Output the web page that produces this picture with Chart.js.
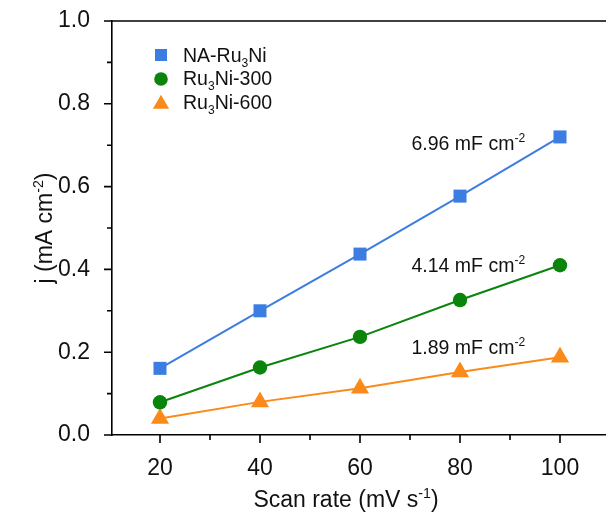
<!DOCTYPE html>
<html>
<head>
<meta charset="utf-8">
<script src="https://cdn.jsdelivr.net/npm/chart.js@4/dist/chart.umd.min.js"></script>
<style>
  html, body { margin: 0; padding: 0; background: #fff; }
  #wrap { width: 606px; height: 514px; }
</style>
</head>
<body>
<div id="wrap"><canvas id="cvChart" width="606" height="514"></canvas></div>
<script>
// scan rate (mV/s) and current density j (mA/cm2)
const scanRates = [20, 40, 60, 80, 100];
const naRu3Ni = [0.161, 0.300, 0.437, 0.577, 0.720];
const ru3Ni300 = [0.079, 0.163, 0.237, 0.326, 0.410];
const ru3Ni600 = [0.040, 0.080, 0.113, 0.152, 0.188];

const seriesNames = ['NA-Ru|3|Ni', 'Ru|3|Ni-300', 'Ru|3|Ni-600']; // |3| = subscript
const seriesColors = ['#3b7de0', '#0a840a', '#fb8a1a'];
const capLabels = ['6.96 mF cm', '4.14 mF cm', '1.89 mF cm'];
const capLabelY = [0.689, 0.394, 0.196];   // baseline, in j units
const capLabelX = 70.3;                      // left edge, in scan rate units

const FONT = "'Liberation Sans', Arial, sans-serif";

// draw a string with |..| = subscript and ^..^ = superscript, returns width
function richText(ctx, str, x, y, size, measureOnly) {
  let cx = x;
  const parts = str.split(/(\|[^|]*\||\^[^^]*\^)/).filter(p => p.length);
  parts.forEach(p => {
    let txt = p, sz = size, dy = 0;
    if (p[0] === '|') { txt = p.slice(1, -1); sz = size * 0.62; dy = size * 0.28; }
    else if (p[0] === '^') { txt = p.slice(1, -1); sz = size * 0.62; dy = -size * 0.38; }
    ctx.font = sz + 'px ' + FONT;
    if (!measureOnly) ctx.fillText(txt, cx, y + dy);
    cx += ctx.measureText(txt).width;
  });
  return cx - x;
}

function marker(ctx, style, x, y, color) {
  ctx.fillStyle = color;
  ctx.beginPath();
  if (style === 'rect') {
    ctx.rect(x - 6, y - 6, 12, 12);
  } else if (style === 'circle') {
    ctx.arc(x, y, 6.8, 0, Math.PI * 2);
  } else {
    ctx.moveTo(x, y - 9.3);
    ctx.lineTo(x + 8.1, y + 4.7);
    ctx.lineTo(x - 8.1, y + 4.7);
    ctx.closePath();
  }
  ctx.fill();
}

const decorPlugin = {
  id: 'decor',
  afterDraw(chart) {
    const ctx = chart.ctx;
    const area = chart.chartArea;
    const xs = chart.scales.x, ys = chart.scales.y;
    ctx.save();
    ctx.strokeStyle = '#000';
    ctx.lineWidth = 1.6;
    // top frame line
    ctx.beginPath();
    ctx.moveTo(area.left, area.top);
    ctx.lineTo(area.right, area.top);
    ctx.stroke();
    // ticks: major longer, minor shorter
    ctx.beginPath();
    xs.ticks.forEach(t => {
      const px = xs.getPixelForValue(t.value);
      const len = t.value % 20 === 0 ? 8 : 5;
      ctx.moveTo(px, area.bottom);
      ctx.lineTo(px, area.bottom + len);
    });
    ys.ticks.forEach(t => {
      const py = ys.getPixelForValue(t.value);
      const len = Math.round(t.value * 10) % 2 === 0 ? 8 : 5;
      ctx.moveTo(area.left, py);
      ctx.lineTo(area.left - len, py);
    });
    ctx.stroke();

    ctx.fillStyle = '#111';
    ctx.textBaseline = 'alphabetic';
    ctx.textAlign = 'left';

    // x title
    const xt = 'Scan rate (mV s^-1^)';
    const xw = richText(ctx, xt, 0, 0, 23, true);
    richText(ctx, xt, 346 - xw / 2, 507, 23);

    // y title (rotated)
    const yt = 'j (mA cm^-2^)';
    const yw = richText(ctx, yt, 0, 0, 23, true);
    ctx.save();
    ctx.translate(52, (area.top + area.bottom) / 2);
    ctx.rotate(-Math.PI / 2);
    richText(ctx, yt, -yw / 2, 0, 23);
    ctx.restore();

    // legend
    const styles = ['rect', 'circle', 'triangle'];
    const legY = [55, 79, 104];
    const legBase = [61.5, 85, 108.5];
    styles.forEach((s, i) => {
      marker(ctx, s, 161, legY[i], seriesColors[i]);
      ctx.fillStyle = '#111';
      richText(ctx, seriesNames[i], 183, legBase[i], 19.5);
    });

    // capacitance labels
    capLabels.forEach((c, i) => {
      ctx.fillStyle = '#111';
      richText(ctx, c + '^-2^', xs.getPixelForValue(capLabelX), ys.getPixelForValue(capLabelY[i]), 19.5);
    });
    ctx.restore();
  }
};

function mkSet(label, data, color, style, radius) {
  return {
    label: label,
    data: scanRates.map((x, i) => ({ x: x, y: data[i] })),
    borderColor: color,
    backgroundColor: color,
    pointBackgroundColor: color,
    pointBorderColor: color,
    pointBorderWidth: 0,
    pointStyle: style,
    pointRadius: radius,
    pointHoverRadius: radius,
    borderWidth: 2,
    tension: 0,
    clip: false
  };
}

new Chart(document.getElementById('cvChart'), {
  type: 'line',
  data: {
    datasets: [
      mkSet('NA-Ru3Ni', naRu3Ni, seriesColors[0], 'rect', 9.2),
      mkSet('Ru3Ni-300', ru3Ni300, seriesColors[1], 'circle', 7.2),
      mkSet('Ru3Ni-600', ru3Ni600, seriesColors[2], 'triangle', 10.5)
    ]
  },
  options: {
    responsive: false,
    animation: false,
    layout: { autoPadding: false, padding: { top: 21, right: 0, left: 0, bottom: 0 } },
    plugins: {
      legend: { display: false },
      tooltip: { enabled: false }
    },
    scales: {
      x: {
        type: 'linear',
        min: 10.4,
        max: 109.2,
        grid: { display: false },
        border: { display: true, color: '#000', width: 1.6 },
        ticks: {
          stepSize: 10,
          includeBounds: false,
          autoSkip: false,
          maxRotation: 0,
          padding: 12,
          color: '#111',
          font: { family: FONT, size: 23 },
          callback: v => (v % 20 === 0 ? String(v) : '')
        },
        afterFit: s => { s.height = 79; s.paddingLeft = 0; s.paddingRight = 0; }
      },
      y: {
        min: 0,
        max: 1,
        grid: { display: false },
        border: { display: true, color: '#000', width: 1.6 },
        ticks: {
          stepSize: 0.1,
          includeBounds: false,
          autoSkip: false,
          padding: 14,
          color: '#111',
          font: { family: FONT, size: 23 },
          callback: v => (Math.round(v * 10) % 2 === 0 ? v.toFixed(1) : '')
        },
        afterFit: s => { s.width = 112; s.paddingTop = 0; s.paddingBottom = 0; }
      }
    }
  },
  plugins: [decorPlugin]
});
</script>
</body>
</html>
